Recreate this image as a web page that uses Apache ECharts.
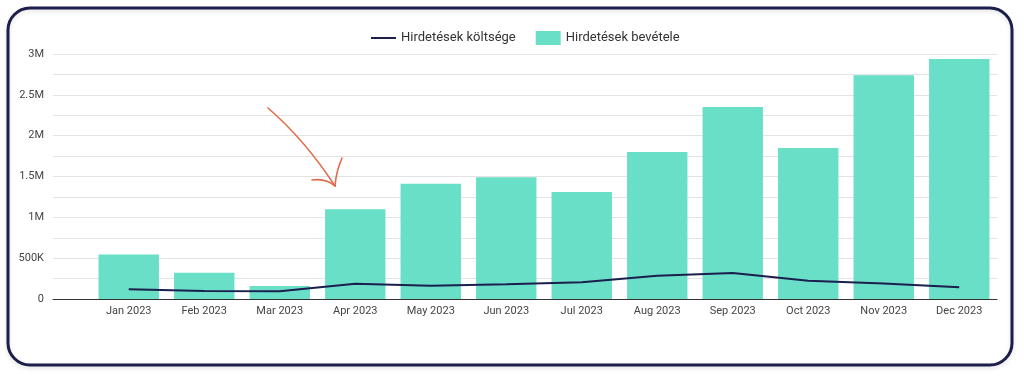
<!DOCTYPE html>
<html>
<head>
<meta charset="utf-8">
<script src="https://cdn.jsdelivr.net/npm/echarts@6/dist/echarts.min.js"></script>
<style>
html,body{margin:0;padding:0;background:#fff;}
#c{width:1024px;height:380px;}
</style>
</head>
<body>
<div id="c"></div>
<script>
const categories = ['Jan 2023','Feb 2023','Mar 2023','Apr 2023','May 2023','Jun 2023','Jul 2023','Aug 2023','Sep 2023','Oct 2023','Nov 2023','Dec 2023'];
const revenue = [545000, 322000, 159000, 1100000, 1410000, 1490000, 1310000, 1800000, 2350000, 1850000, 2740000, 2940000];
const cost = [119000, 98000, 94000, 186000, 163000, 182000, 205000, 285000, 318000, 224000, 190000, 143000];
const yTicks = [0, 500000, 1000000, 1500000, 2000000, 2500000, 3000000];

const chart = echarts.init(document.getElementById('c'), null, {renderer:'canvas'});
function fmt(v){
  if (yTicks.indexOf(v) < 0) return '';
  if (v >= 1e6) return (v/1e6) + 'M';
  if (v >= 1e3) return (v/1e3) + 'K';
  return String(v);
}
const font = 'Roboto, "Noto Sans", sans-serif';
chart.setOption({
  animation:false,
  textStyle:{fontFamily:font},
  legend:{
    left:366, top:26, itemGap:20, itemWidth:25, itemHeight:14,
    textStyle:{fontSize:13, color:'#333', fontFamily:font},
    data:[
      {name:'Hirdetések költsége', icon:'path://M0,0L25,0L25,2L0,2Z', itemStyle:{color:'#1b1f4d'}},
      {name:'Hirdetések bevétele', icon:'rect'}
    ]
  },
  grid:[
    {left:53, right:27, top:54, bottom:81},
    {left:91, right:27, top:54, bottom:81}
  ],
  xAxis:[
    {gridIndex:0, type:'category', data:[''], axisLabel:{show:false}, axisTick:{show:false},
     axisLine:{show:true, lineStyle:{color:'#333', width:1}}},
    {gridIndex:1, type:'category', data:categories, axisTick:{show:false}, axisLine:{show:false},
     axisLabel:{fontSize:11, color:'#444', margin:7, interval:0, fontFamily:font}}
  ],
  yAxis:[
    {gridIndex:0, type:'value', min:0, max:3000000, interval:250000,
     axisLine:{show:false}, axisTick:{show:false},
     axisLabel:{formatter:fmt, fontSize:11, color:'#444', margin:9, fontFamily:font},
     splitLine:{lineStyle:{color:'#e3e3e3', width:1}}},
    {gridIndex:1, type:'value', min:0, max:3000000, interval:250000, show:false, splitLine:{show:false}}
  ],
  series:[
    {name:'Hirdetések bevétele', type:'bar', xAxisIndex:1, yAxisIndex:1, data:revenue,
     barCategoryGap:'20%', itemStyle:{color:'#6adfc7'}, z:2},
    {name:'Hirdetések költsége', type:'line', xAxisIndex:1, yAxisIndex:1, data:cost,
     symbol:'none', lineStyle:{color:'#1b1f4d', width:2}, itemStyle:{color:'#1b1f4d'}, z:3}
  ],
  graphic:[
    {type:'rect', z:-1, shape:{x:8, y:8, width:1004, height:357, r:22},
     style:{fill:'none', stroke:'#1c1f4a', lineWidth:3, shadowColor:'rgba(0,0,0,0.12)', shadowBlur:4, shadowOffsetY:2}},
    {type:'bezierCurve', z:10, shape:{x1:268, y1:108, x2:335, y2:186, cpx1:305, cpy1:140},
     style:{stroke:'#df6b4a', lineWidth:1.6, fill:'none', lineCap:'round'}},
    {type:'bezierCurve', z:10, shape:{x1:342, y1:158, x2:335, y2:186, cpx1:336, cpy1:172},
     style:{stroke:'#df6b4a', lineWidth:1.6, fill:'none', lineCap:'round'}},
    {type:'bezierCurve', z:10, shape:{x1:312, y1:180, x2:335, y2:186, cpx1:326, cpy1:178},
     style:{stroke:'#df6b4a', lineWidth:1.6, fill:'none', lineCap:'round'}}
  ]
});
</script>
</body>
</html>
